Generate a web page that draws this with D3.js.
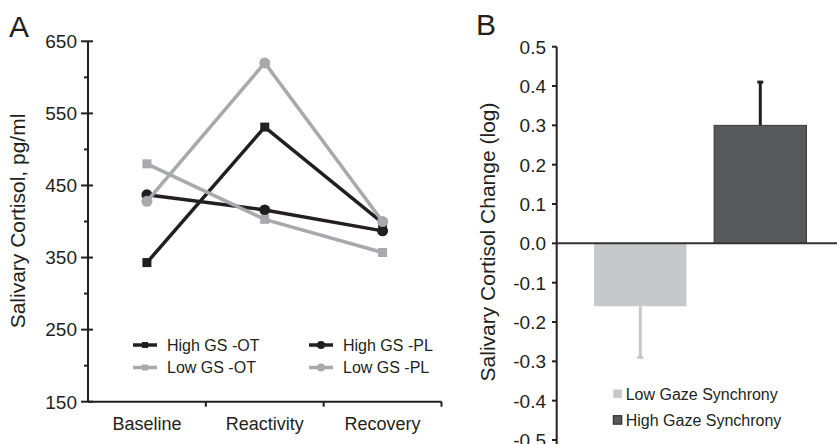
<!DOCTYPE html>
<html>
<head>
<meta charset="utf-8">
<style>
  body { margin: 0; background: #fff; }
  svg text { font-family: Arial, "Liberation Sans", sans-serif; fill: #231f20; }
</style>
</head>
<body>
<div class="chartContainer"></div>

<script src="https://d3js.org/d3.v7.min.js"></script>
<script>
    // panel A data
    const phases = ['Baseline', 'Reactivity', 'Recovery'];
    const highOT = [343, 531, 398];
    const highPL = [437, 416, 387];
    const lowOT  = [480, 403, 357];
    const lowPL  = [428, 620, 400];
    const yTicksA = [150, 250, 350, 450, 550, 650];

    // panel B data
    const groups = ['Low Gaze Synchrony', 'High Gaze Synchrony'];
    const changeMean = [-0.16, 0.30];
    const changeErr  = [0.13, 0.11];
    const yTicksB = [-0.5, -0.4, -0.3, -0.2, -0.1, 0, 0.1, 0.2, 0.3, 0.4, 0.5];

    const black = '#231f20', grey = '#a7a9ac';
    const series = [
      {name: 'High GS -OT', values: highOT, color: black, shape: 'square'},
      {name: 'High GS -PL', values: highPL, color: black, shape: 'circle'},
      {name: 'Low GS -OT',  values: lowOT,  color: grey,  shape: 'square'},
      {name: 'Low GS -PL',  values: lowPL,  color: grey,  shape: 'circle'}
    ];

    const svg = d3.select('.chartContainer')
                  .append('svg')
                  .attr('width', 837)
                  .attr('height', 444);

    // ---------- A ----------
    const x = d3.scaleBand().domain(phases).range([88, 441.5]);
    const y = d3.scaleLinear().domain([150, 650]).range([401.7, 41.3]);

    svg.append('text').attr('x', 9).attr('y', 37).style('font-size', '30px').text('A');

    const gA = svg.append('g');
    // y axis
    gA.append('line').attr('x1', 88).attr('x2', 88).attr('y1', y(650)).attr('y2', y(150))
      .style('stroke', black).style('stroke-width', 2);
    gA.selectAll('.minor').data(d3.range(200, 650, 100)).enter().append('line')
      .attr('x1', 84).attr('x2', 88).attr('y1', d => y(d)).attr('y2', d => y(d))
      .style('stroke', black).style('stroke-width', 2);
    gA.selectAll('.major').data(yTicksA).enter().append('line')
      .attr('x1', 81).attr('x2', 93).attr('y1', d => y(d)).attr('y2', d => y(d))
      .style('stroke', black).style('stroke-width', 2);
    gA.selectAll('.ylab').data(yTicksA).enter().append('text')
      .attr('x', 77).attr('y', d => y(d)).attr('dy', '0.36em')
      .attr('text-anchor', 'end').style('font-size', '19px').text(d => d);
    // x axis
    gA.append('line').attr('x1', 88).attr('x2', 441.5).attr('y1', y(150)).attr('y2', y(150))
      .style('stroke', black).style('stroke-width', 2);
    gA.selectAll('.xt').data(phases).enter().append('line')
      .attr('x1', d => x(d) + x.bandwidth()).attr('x2', d => x(d) + x.bandwidth())
      .attr('y1', y(150)).attr('y2', y(150) + 5)
      .style('stroke', black).style('stroke-width', 2);
    gA.selectAll('.xlab').data(phases).enter().append('text')
      .attr('x', d => x(d) + x.bandwidth() / 2).attr('y', 430)
      .attr('text-anchor', 'middle').style('font-size', '18px').text(d => d);
    gA.append('text').attr('transform', 'translate(25,221) rotate(-90)')
      .attr('text-anchor', 'middle').style('font-size', '21px').text('Salivary Cortisol, pg/ml');

    const line = d3.line().x((d, i) => x(phases[i]) + x.bandwidth() / 2).y(d => y(d));

    function marker(g, shape, cx, cy, color, size) {
      if (shape === 'square') {
        g.append('rect').attr('x', cx - size / 2).attr('y', cy - size / 2)
          .attr('width', size).attr('height', size).style('fill', color);
      } else {
        g.append('circle').attr('cx', cx).attr('cy', cy).attr('r', size / 2 + 1).style('fill', color);
      }
    }

    series.forEach(s => {
      gA.append('path').datum(s.values).attr('d', line)
        .style('fill', 'none').style('stroke', s.color).style('stroke-width', 3.5);
      s.values.forEach((v, i) => marker(gA, s.shape, x(phases[i]) + x.bandwidth() / 2, y(v), s.color, 9));
    });

    // legend A
    const legA = [{x: 133, y: 345}, {x: 309, y: 345}, {x: 133, y: 367.5}, {x: 309, y: 367.5}];
    series.forEach((s, k) => {
      const p = legA[k];
      gA.append('line').attr('x1', p.x).attr('x2', p.x + 24).attr('y1', p.y).attr('y2', p.y)
        .style('stroke', s.color).style('stroke-width', 3.5);
      marker(gA, s.shape, p.x + 12, p.y, s.color, 6);
      gA.append('text').attr('x', p.x + 34).attr('y', p.y).attr('dy', '0.36em')
        .style('font-size', '16px').text(s.name);
    });

    // ---------- B ----------
    const xb = d3.scaleBand().domain(groups).range([580.3, 820.3]).paddingInner(0.23).paddingOuter(0.115);
    const yb = d3.scaleLinear().domain([-0.5, 0.5]).range([440, 46.7]);
    const fmt = d => d3.format('.1f')(d).replace('−', '-');
    const barFill = ['#c7c8ca', '#58595b'];
    const errColor = ['#c7c8ca', black];

    svg.append('text').attr('x', 476).attr('y', 35).style('font-size', '30px').text('B');

    const gB = svg.append('g');
    gB.append('line').attr('x1', 556.7).attr('x2', 556.7).attr('y1', yb(0.5)).attr('y2', 446)
      .style('stroke', black).style('stroke-width', 2);
    gB.selectAll('.tk').data(yTicksB).enter().append('line')
      .attr('x1', 552).attr('x2', 556.7).attr('y1', d => yb(d)).attr('y2', d => yb(d))
      .style('stroke', black).style('stroke-width', 2);
    gB.selectAll('.tl').data(yTicksB).enter().append('text')
      .attr('x', 546).attr('y', d => yb(d)).attr('dy', '0.36em')
      .attr('text-anchor', 'end').style('font-size', '19px').text(fmt);
    gB.append('text').attr('transform', 'translate(495,242) rotate(-90)')
      .attr('text-anchor', 'middle').style('font-size', '21px').text('Salivary Cortisol Change (log)');

    // error bars
    groups.forEach((g, i) => {
      const cx = xb(g) + xb.bandwidth() / 2;
      const end = changeMean[i] + Math.sign(changeMean[i]) * changeErr[i];
      gB.append('line').attr('x1', cx).attr('x2', cx).attr('y1', yb(changeMean[i])).attr('y2', yb(end))
        .style('stroke', errColor[i]).style('stroke-width', 3);
      gB.append('line').attr('x1', cx - 3).attr('x2', cx + 3).attr('y1', yb(end)).attr('y2', yb(end))
        .style('stroke', errColor[i]).style('stroke-width', 3);
    });

    gB.selectAll('.bar').data(groups).enter().append('rect')
      .attr('x', d => xb(d)).attr('width', xb.bandwidth())
      .attr('y', (d, i) => yb(Math.max(0, changeMean[i])))
      .attr('height', (d, i) => Math.abs(yb(changeMean[i]) - yb(0)))
      .style('fill', (d, i) => barFill[i])
      .style('stroke', (d, i) => i === 1 ? '#3a3a3c' : 'none').style('stroke-width', 1);

    gB.append('line').attr('x1', 556.7).attr('x2', 837).attr('y1', yb(0)).attr('y2', yb(0))
      .style('stroke', '#333').style('stroke-width', 2);

    // legend B
    const legB = [393.8, 420];
    groups.forEach((g, i) => {
      gB.append('rect').attr('x', 613.3).attr('y', legB[i] - 4.3).attr('width', 8.5).attr('height', 8.5)
        .style('fill', barFill[i]).style('stroke', i === 1 ? '#231f20' : 'none').style('stroke-width', 1);
      gB.append('text').attr('x', 625.7).attr('y', legB[i]).attr('dy', '0.36em')
        .style('font-size', '16px').text(g);
    });
</script>
</body>
</html>
